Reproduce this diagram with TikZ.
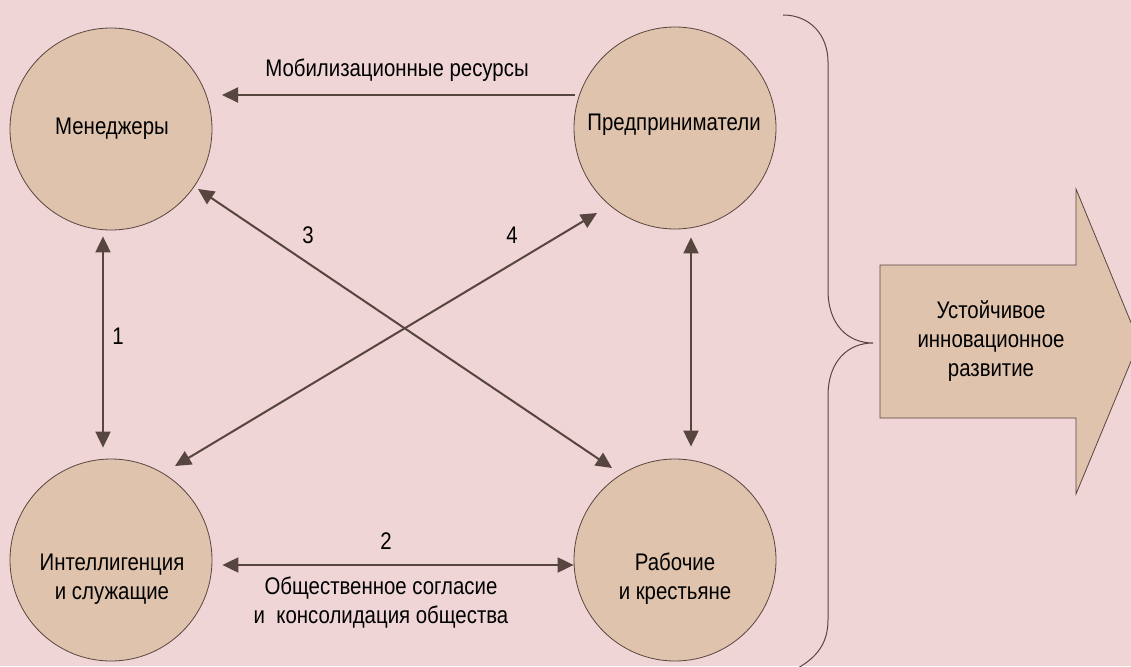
\documentclass[tikz,border=0pt]{standalone}
\usepackage{fontspec}
\setmainfont[FakeStretch=0.85]{Liberation Sans}
\usetikzlibrary{calc,arrows.meta}
\definecolor{bgpink}{HTML}{EFD5D6}
\definecolor{circlefill}{HTML}{DFC3AD}
\definecolor{brownline}{HTML}{574640}
\tikzset{
	actor/.style={circle, draw=brownline, line width=0.8pt, fill=circlefill, minimum size=202pt, inner sep=0pt},
	lbl/.style={font=\fontsize{24}{29}\selectfont, text=black, align=center, inner sep=0pt},
	link/.style={draw=brownline, line width=2pt, -{Triangle[length=16pt,width=15pt]}},
	link2/.style={link, {Triangle[length=16pt,width=15pt]}-{Triangle[length=16pt,width=15pt]}},
	bracket/.style={draw=brownline, line width=1pt},
}

\begin{document}
\begin{tikzpicture}[x=1pt, y=-1pt]
		%%%%% START %%%%%
		
		\fill[bgpink] (0, 0) rectangle (1131, 666);
		\useasboundingbox (0, 0) rectangle (1131, 666);
		
		\node[actor] (man) at (111, 129) {};
		\node[actor] (ent) at (675, 128) {};
		\node[actor] (int) at (111, 560) {};
		\node[actor] (wrk) at (675, 560) {};
		
		\node[lbl] (manlbl) at (112, 129) {Менеджеры};
		\node[lbl] (entlbl) at (674, 125) {Предприниматели};
		\node[lbl] (intlbl) at (112, 579) {Интеллигенция\\и служащие};
		\node[lbl] (wrklbl) at (675, 579) {Рабочие\\и крестьяне};
		
		\draw[link] ($(ent)+(-100, -33)$) -- ($(man)+(111, -34)$);
		\node[lbl] (mob) at (397, 70) {Мобилизационные ресурсы};
		
		\draw[link2] ($(man.south)+(-8, 6)$) -- ($(int.north)+(-8, -11)$);
		\node[lbl] (one) at (118, 336) {1};
		
		\draw[link2] ($(ent.south)+(16, 8)$) -- ($(wrk.north)+(16, -12)$);
		
		\draw[link2] ($(int.east)+(10, 5)$) -- ($(wrk.west)+(0, 5)$);
		\node[lbl] (two) at (386, 541) {2};
		\node[lbl] (cons) at (381, 603) {Общественное согласие\\и\ \ консолидация общества};
		
		\draw[link2] ($(man)+(87, 60)$) -- ($(wrk)+(-63, -92)$);
		\node[lbl] (three) at (308, 235) {3};
		
		\draw[link2] ($(int)+(64, -94)$) -- ($(ent)+(-78, 85)$);
		\node[lbl] (four) at (512, 235) {4};
		
		% brace
		\draw[bracket] (783, 15) .. controls (810, 15) and (828, 35) .. (828, 62) -- (828, 290)
			.. controls (828, 325) and (848, 343) .. (873, 343)
			.. controls (848, 343) and (828, 361) .. (828, 396) -- (828, 620)
			.. controls (828, 645) and (815, 658) .. (798, 668);
		
		% result arrow
		\draw[brownline, line width=0.8pt, fill=circlefill] (880, 265) -- (1076, 265) -- (1076, 189)
			-- (1139, 342) -- (1076, 494) -- (1076, 418) -- (880, 418) -- cycle;
		\node[lbl] (goal) at (991, 341) {Устойчивое\\инновационное\\развитие};
		
		%%%%% END %%%%%
	\end{tikzpicture}
\end{document}
